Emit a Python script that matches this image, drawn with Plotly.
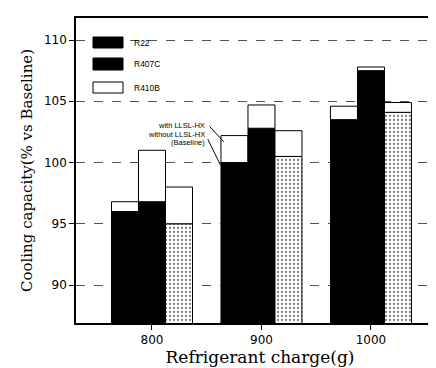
import plotly.graph_objects as go

charges = [800, 900, 1000]
refrigerants = ["R22", "R407C", "R410B"]
baseline = {
    "R22": [96.0, 100.0, 103.5],
    "R407C": [96.8, 102.8, 107.5],
    "R410B": [95.0, 100.5, 104.1],
}
with_llsl = {
    "R22": [96.8, 102.2, 104.6],
    "R407C": [101.0, 104.7, 107.8],
    "R410B": [98.0, 102.6, 104.9],
}
y_ticks = [90, 95, 100, 105, 110]
x_ticks = [800, 900, 1000]

fig = go.Figure()
for r in refrigerants:
    if r == "R410B":
        marker = dict(color="white", line=dict(color="black", width=1),
                      pattern=dict(shape=".", fgcolor="black", bgcolor="white",
                                   size=4, solidity=0.25))
    else:
        marker = dict(color="black", line=dict(color="black", width=1))
    fig.add_trace(go.Bar(x=charges, y=baseline[r], offsetgroup=r, name=r,
                         marker=marker, showlegend=False))
    inc = [w - b for w, b in zip(with_llsl[r], baseline[r])]
    fig.add_trace(go.Bar(x=charges, y=inc, base=baseline[r], offsetgroup=r,
                         marker=dict(color="white", line=dict(color="black", width=1)),
                         showlegend=False))

# custom legend
leg_rows = [("R22", 29, 40, "black"), ("R407C", 50, 62, "black"), ("R410B", 74, 85, "white")]
for name, y0, y1, col in leg_rows:
    fig.add_shape(type="rect", xref="paper", yref="paper",
                  x0=(85 - 68) / 368, x1=(115 - 68) / 368,
                  y0=(315 - y1) / 305, y1=(315 - y0) / 305,
                  fillcolor=col, line=dict(color="black", width=1))
    fig.add_annotation(xref="paper", yref="paper", x=(124 - 68) / 368,
                       y=(315 - (y0 + y1) / 2) / 305, text=name, showarrow=False,
                       xanchor="left", yanchor="middle",
                       font=dict(family="Liberation Sans", size=8.5, color="black"))

# callout labels
for txt, yv in [("with LLSL-HX", 103.06), ("without LLSL-HX", 102.33), ("(Baseline)", 101.62)]:
    fig.add_annotation(x=850, y=yv, text=txt, showarrow=False, xanchor="right",
                       yanchor="middle",
                       font=dict(family="Liberation Sans", size=7.5, color="black"))
fig.add_shape(type="line", x0=852.5, y0=102.95, x1=865.5, y1=101.7,
              line=dict(color="black", width=1))
fig.add_shape(type="line", x0=851.0, y0=101.9, x1=862.5, y1=99.8,
              line=dict(color="black", width=1))

fig.update_layout(
    width=436, height=368,
    margin=dict(l=68, r=0, t=10, b=53),
    paper_bgcolor="white", plot_bgcolor="white",
    barmode="group", bargap=0.26, bargroupgap=0,
    showlegend=False,
)
fig.update_xaxes(range=[730.6, 1066.7], tickvals=x_ticks, ticks="outside", ticklen=5,
                 tickcolor="black", showline=True, linecolor="black", linewidth=1.5,
                 mirror=True, showgrid=False, zeroline=False,
                 tickfont=dict(family="DejaVu Sans", size=12, color="black"),
                 title=dict(text="Refrigerant charge(g)", standoff=3,
                            font=dict(family="DejaVu Serif", size=17, color="black")))
fig.update_yaxes(range=[86.9, 111.8], tickvals=y_ticks, ticks="outside", ticklen=5,
                 tickcolor="black", showline=True, linecolor="black", linewidth=1.5,
                 showgrid=True, gridcolor="#555555", griddash="dash", gridwidth=1,
                 zeroline=False,
                 tickfont=dict(family="DejaVu Sans", size=12, color="black"),
                 title=dict(text="Cooling capacity(% vs Baseline)", standoff=8,
                            font=dict(family="DejaVu Serif", size=15, color="black")))

fig.write_html("out.html")
